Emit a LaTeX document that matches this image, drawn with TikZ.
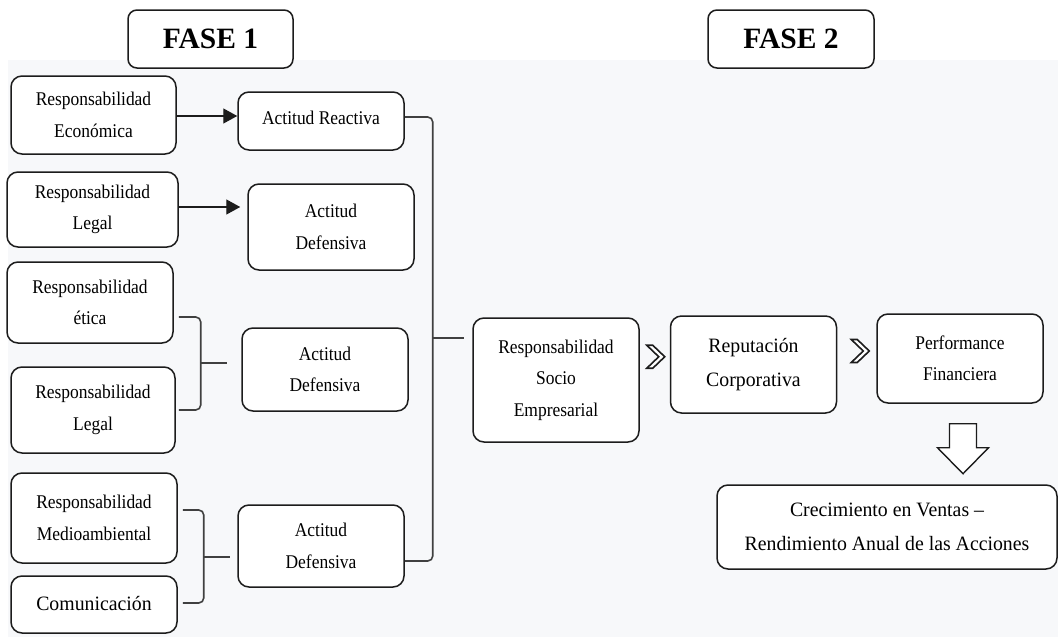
\documentclass[tikz,border=0pt]{standalone}
\usepackage{fontspec}
\setmainfont{Liberation Serif}
\newfontfamily\cfa[FakeStretch=0.9]{Liberation Serif}
\newfontfamily\cfb[FakeStretch=0.97]{Liberation Serif}
\usetikzlibrary{arrows.meta,calc}
\newcommand\fonta{\cfa\fontsize{19.4}{31.5}\selectfont}
\newcommand\fontb{\cfb\fontsize{20.4}{34}\selectfont}
\definecolor{bgc}{HTML}{F7F8FA}
\definecolor{lnc}{HTML}{1C1C1C}
\definecolor{brc}{HTML}{404040}
\begin{document}
\begin{tikzpicture}[x=1pt,y=-1pt,
  box/.style={draw=lnc, line width=1.5pt, rounded corners=11pt, fill=white,
    inner sep=0pt, align=center, font=\fonta},
  boxb/.style={box, font=\fontb},
  fase/.style={box, rounded corners=9pt, font=\bfseries\fontsize{29.5}{30}\selectfont},
  arr/.style={draw=lnc, line width=1.4pt, -{Triangle[length=14pt,width=15pt]}},
  brk/.style={draw=brc, line width=1.6pt, rounded corners=5pt},
  chev/.pic={\draw[lnc, line width=1.6pt, fill=white, line join=miter]
     (-9,-11.5) -- (-3,-11.5) -- (9,0) -- (-3,11.5) -- (-9,11.5) -- (3,0) -- cycle;},
  blk/.style={draw=lnc, line width=1.4pt, fill=white, line join=miter}
]
\useasboundingbox (0,0) rectangle (1058,637);
\fill[bgc] (8,60) rectangle (1058,637);

% headers
\node[fase, minimum width=165pt, minimum height=58pt] (f1) at (210.5,39) {FASE 1};
\node[fase, minimum width=166pt, minimum height=58pt] (f2) at (791,39) {FASE 2};

% phase 1 boxes
\node[box, minimum width=165pt, minimum height=78pt] (eco) at (93.5,115) {Responsabilidad\\Económica};
\node[box, minimum width=166pt, minimum height=58pt] (reac) at (321,121) {\raisebox{6pt}{Actitud Reactiva}};
\node[box, minimum width=171pt, minimum height=75pt] (leg1) at (92.5,209.5) {Responsabilidad\\Legal};
\node[box, minimum width=166pt, minimum height=86pt] (def1) at (331,227) {Actitud\\Defensiva};
\node[box, minimum width=166pt, minimum height=81pt] (eti) at (90,302.5) {Responsabilidad\\ética};
\node[box, minimum width=164pt, minimum height=86pt] (leg2) at (93,410) {Responsabilidad\\Legal};
\node[box, minimum width=166pt, minimum height=83pt] (def2) at (325,369.5) {Actitud\\Defensiva};
\node[box, minimum width=166pt, minimum height=90pt] (med) at (94,518) {\raisebox{6pt}{\begin{tabular}{@{}c@{}}Responsabilidad\\Medioambiental\end{tabular}}};
\node[boxb, minimum width=166pt, minimum height=57pt] (com) at (94,604.5) {\raisebox{3pt}{Comunicación}};
\node[box, minimum width=166pt, minimum height=82pt] (def3) at (321,546) {Actitud\\Defensiva};

% phase 2 boxes
\node[box, minimum width=166pt, minimum height=124pt] (soc) at (556,380) {Responsabilidad\\Socio\\Empresarial};
\node[boxb, minimum width=166pt, minimum height=97pt] (rep) at (753.5,364.5) {Reputación\\Corporativa};
\node[box, minimum width=166pt, minimum height=89pt] (per) at (960,358.5) {Performance\\Financiera};
\node[boxb, minimum width=340pt, minimum height=84pt] (cre) at (887,527) {Crecimiento en Ventas –\\Rendimiento Anual de las Acciones};

% arrows
\draw[arr] (eco.east |- 0,116) -- (reac.west |- 0,116);
\draw[arr, shorten >=7pt] (leg1.east |- 0,207) -- (def1.west |- 0,207);

% bracket A (etica + legal -> defensiva)
\coordinate (a1) at ([xshift=5pt,yshift=-14.5pt]eti.east);
\coordinate (a2) at ([xshift=3pt]leg2.east);
\coordinate (at) at ([xshift=-14pt,yshift=6.5pt]def2.west);
\coordinate (am) at ($(a1)+(22,0)$);
\draw[brk] (a1) -| (am |- at) |- (a2);
\draw[brk] (am |- at) -- (at);

% bracket B (medioambiental + comunicacion -> defensiva)
\coordinate (b1) at ([xshift=5pt,yshift=8pt]med.east);
\coordinate (b2) at ([xshift=5pt,yshift=1.5pt]com.east);
\coordinate (bt) at ([xshift=-7pt,yshift=-11pt]def3.west);
\coordinate (bm) at ($(b1)+(21,0)$);
\draw[brk] (b1) -| (bm |- bt) |- (b2);
\draw[brk] (bm |- bt) -- (bt);

% big bracket -> socio empresarial
\coordinate (c1) at ([yshift=4pt]reac.east);
\coordinate (c2) at ([yshift=-15pt]def3.east);
\coordinate (ct) at ([xshift=-8pt,yshift=42pt]soc.west);
\coordinate (cm) at ($(c1)+(28,0)$);
\draw[brk] (c1) -| (cm |- ct) |- (c2);
\draw[brk] (cm |- ct) -- (ct);

% chevrons
\pic at ($($(soc.east)!0.5!(rep.west)$)+(1,-15.5)$) {chev};
\pic at ($($(rep.east)!0.5!(per.west)$)+(3.5,-10.5)$) {chev};

% block arrow
\draw[blk] ($(per.south)+(-10.5,20)$) -- ++(27,0) -- ++(0,24) -- ++(12,0)
  -- ++(-25.5,26) -- ++(-25.5,-26) -- ++(12,0) -- cycle;
\end{tikzpicture}
\end{document}
